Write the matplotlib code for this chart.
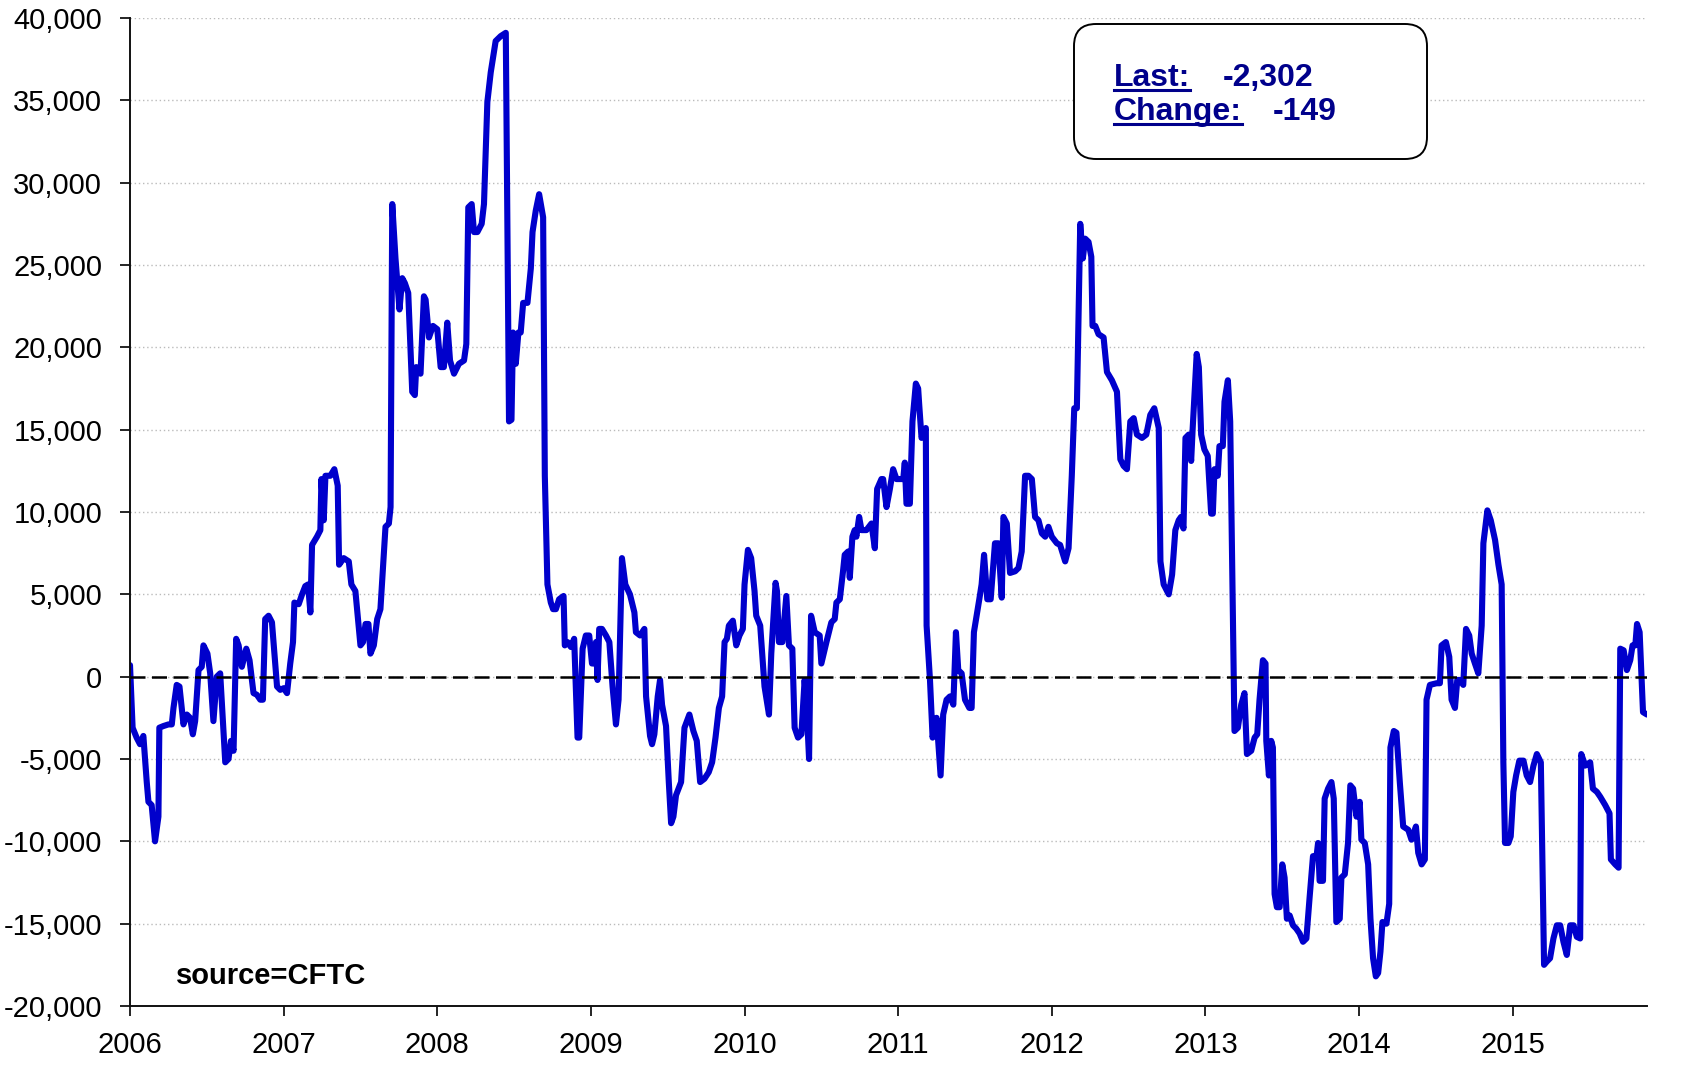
import matplotlib
matplotlib.use("Agg")
import matplotlib.pyplot as plt
from matplotlib.patches import FancyBboxPatch
from matplotlib.lines import Line2D
from matplotlib.ticker import FuncFormatter, FixedLocator

plt.rcParams['font.family'] = ['Liberation Sans', 'DejaVu Sans']
plt.rcParams['axes.unicode_minus'] = False

# ---- data (fractional year, net position) ----
dates = [
    2006.000, 2006.017, 2006.043, 2006.065, 2006.087, 2006.109, 2006.120, 2006.141, 2006.163, 2006.185,
    2006.191, 2006.217, 2006.250, 2006.272, 2006.283, 2006.304, 2006.322, 2006.348, 2006.370, 2006.391,
    2006.409, 2006.424, 2006.446, 2006.467, 2006.478, 2006.504, 2006.522, 2006.543, 2006.565, 2006.587,
    2006.620, 2006.641, 2006.657, 2006.674, 2006.691, 2006.707, 2006.728, 2006.757, 2006.778, 2006.804,
    2006.826, 2006.848, 2006.865, 2006.880, 2006.902, 2006.924, 2006.957, 2006.978, 2007.000, 2007.022,
    2007.043, 2007.061, 2007.070, 2007.098, 2007.120, 2007.141, 2007.159, 2007.174, 2007.185, 2007.217,
    2007.239, 2007.246, 2007.261, 2007.272, 2007.304, 2007.330, 2007.352, 2007.361, 2007.391, 2007.424,
    2007.441, 2007.467, 2007.500, 2007.517, 2007.533, 2007.552, 2007.565, 2007.587, 2007.609, 2007.630,
    2007.652, 2007.663, 2007.685, 2007.696, 2007.707,
    2007.728, 2007.754, 2007.772, 2007.789, 2007.811, 2007.837, 2007.854, 2007.863, 2007.891, 2007.913,
    2007.924, 2007.946, 2007.972, 2008.000, 2008.022, 2008.043, 2008.065, 2008.083, 2008.109, 2008.141,
    2008.174, 2008.189, 2008.202, 2008.224, 2008.239, 2008.261, 2008.289, 2008.304, 2008.326, 2008.348,
    2008.380, 2008.413, 2008.446, 2008.467, 2008.483, 2008.493, 2008.511, 2008.528, 2008.543, 2008.559,
    2008.587, 2008.609, 2008.620, 2008.641, 2008.663, 2008.689, 2008.700, 2008.717, 2008.739, 2008.754,
    2008.772, 2008.793, 2008.822, 2008.830, 2008.848, 2008.870, 2008.891, 2008.913, 2008.924, 2008.946,
    2008.967, 2008.989, 2009.007, 2009.022, 2009.033, 2009.043, 2009.054, 2009.072, 2009.098, 2009.120,
    2009.141, 2009.163, 2009.180, 2009.202, 2009.224, 2009.254, 2009.283, 2009.293, 2009.320, 2009.348,
    2009.359, 2009.385,
    2009.398, 2009.413, 2009.435, 2009.450, 2009.463, 2009.489, 2009.507, 2009.522, 2009.537, 2009.554,
    2009.587, 2009.609, 2009.641, 2009.667, 2009.689, 2009.711, 2009.739, 2009.767, 2009.789, 2009.811,
    2009.833, 2009.854, 2009.870, 2009.885, 2009.898, 2009.924, 2009.946, 2009.967, 2009.989, 2010.000,
    2010.022, 2010.043, 2010.065, 2010.076, 2010.102, 2010.130, 2010.159, 2010.174, 2010.202, 2010.211,
    2010.224, 2010.246, 2010.272, 2010.289, 2010.311, 2010.326, 2010.348, 2010.370, 2010.391, 2010.402,
    2010.420, 2010.433, 2010.457, 2010.489, 2010.500, 2010.533, 2010.565, 2010.587, 2010.598, 2010.620,
    2010.641, 2010.652, 2010.674, 2010.685, 2010.702, 2010.717, 2010.728, 2010.746, 2010.761, 2010.793,
    2010.826, 2010.848, 2010.863, 2010.891, 2010.902, 2010.924, 2010.946, 2010.967, 2010.989, 2011.033,
    2011.043, 2011.054, 2011.076, 2011.093, 2011.115, 2011.130,
    2011.137, 2011.152, 2011.180, 2011.185, 2011.207, 2011.224, 2011.250, 2011.276, 2011.293, 2011.315,
    2011.337, 2011.359, 2011.376, 2011.391, 2011.413, 2011.435, 2011.463, 2011.478, 2011.493, 2011.528,
    2011.543, 2011.559, 2011.580, 2011.602, 2011.630, 2011.652, 2011.674, 2011.685, 2011.707, 2011.728,
    2011.761, 2011.783, 2011.804, 2011.826, 2011.848, 2011.870, 2011.891, 2011.913, 2011.935, 2011.957,
    2011.978, 2012.000, 2012.033, 2012.054, 2012.087, 2012.109, 2012.130, 2012.146, 2012.163, 2012.185,
    2012.202, 2012.217, 2012.239, 2012.257, 2012.265, 2012.283, 2012.304, 2012.337, 2012.359, 2012.391,
    2012.424, 2012.446, 2012.467, 2012.489, 2012.511, 2012.533, 2012.554, 2012.587, 2012.615, 2012.641,
    2012.667, 2012.696, 2012.707, 2012.728, 2012.761, 2012.783, 2012.804, 2012.826,
    2012.841, 2012.857, 2012.870, 2012.891, 2012.907, 2012.917, 2012.943, 2012.957, 2012.972, 2012.993,
    2013.015, 2013.037, 2013.048, 2013.059, 2013.080, 2013.091, 2013.113, 2013.124, 2013.146, 2013.161,
    2013.189, 2013.211, 2013.233, 2013.254, 2013.270, 2013.298, 2013.320, 2013.337, 2013.352, 2013.374,
    2013.391, 2013.396, 2013.413, 2013.428, 2013.439, 2013.450, 2013.465, 2013.483, 2013.500, 2013.515,
    2013.530, 2013.548, 2013.570, 2013.591, 2013.613, 2013.635, 2013.657, 2013.678, 2013.700, 2013.722,
    2013.733, 2013.743, 2013.765, 2013.776, 2013.798, 2013.820, 2013.835, 2013.852, 2013.874, 2013.885,
    2013.907, 2013.928, 2013.943, 2013.961, 2013.983, 2014.004, 2014.015, 2014.037, 2014.059, 2014.074,
    2014.091, 2014.109, 2014.124, 2014.139, 2014.152, 2014.178, 2014.196, 2014.204, 2014.226, 2014.243,
    2014.265,
    2014.287, 2014.320, 2014.341, 2014.370, 2014.385, 2014.407, 2014.428, 2014.439, 2014.461, 2014.504,
    2014.526, 2014.537, 2014.565, 2014.587, 2014.602, 2014.624, 2014.639, 2014.657, 2014.678, 2014.696,
    2014.717, 2014.733, 2014.754, 2014.776, 2014.798, 2014.809, 2014.835, 2014.857, 2014.885, 2014.907,
    2014.928, 2014.939, 2014.950, 2014.972, 2014.987, 2015.004, 2015.022, 2015.043, 2015.070, 2015.091,
    2015.113, 2015.135, 2015.157, 2015.183, 2015.204, 2015.222, 2015.243, 2015.265, 2015.287, 2015.309,
    2015.330, 2015.352, 2015.374, 2015.396, 2015.417, 2015.439, 2015.446, 2015.472, 2015.504, 2015.522,
    2015.548, 2015.570, 2015.602, 2015.630, 2015.639, 2015.667, 2015.689, 2015.700, 2015.722, 2015.743,
    2015.765, 2015.780, 2015.798, 2015.809, 2015.826, 2015.848, 2015.874,
]

net_positions = [
    700, -3100, -3700, -4100, -3600, -6400, -7600, -7800, -10000, -8500,
    -3100, -3000, -2900, -2900, -1900, -500, -600, -2900, -2300, -2500,
    -3500, -2700, 400, 600, 1900, 1400, 200, -2700, 0, 200,
    -5200, -5000, -3900, -4500, 2300, 1900, 600, 1700, 1000, -1000,
    -1100, -1400, -1400, 3500, 3700, 3300, -600, -800, -700, -1000,
    800, 2100, 4500, 4400, 5000, 5500, 5600, 3900, 8000, 8500,
    8900, 12000, 9500, 12200, 12200, 12600, 11600, 6800, 7200, 7000,
    5600, 5200, 1900, 2100, 3200, 3200, 1400, 1900, 3500, 4100,
    7400, 9100, 9300, 10300, 28700,
    25400, 22300, 24200, 23900, 23300, 17300, 17100, 18800, 18400, 23100,
    22900, 20600, 21300, 21100, 18800, 18800, 21500, 19200, 18400, 19000,
    19200, 20200, 28500, 28700, 27000, 27000, 27500, 28700, 34900, 36700,
    38600, 38900, 39100, 15500, 15600, 20900, 19000, 20900, 20900, 22700,
    22700, 24800, 27000, 28300, 29300, 27900, 12200, 5600, 4500, 4100,
    4100, 4700, 4900, 1900, 2100, 1800, 2300, -3700, -3700, 1700,
    2500, 2500, 800, 800, 2100, -200, 2900, 2900, 2500, 2100,
    -600, -2900, -1400, 7200, 5600, 5000, 3900, 2700, 2500, 2900,
    -1200, -3600,
    -4100, -3500, -1200, -200, -1700, -3000, -6400, -8900, -8500, -7200,
    -6400, -3100, -2300, -3300, -3900, -6400, -6200, -5800, -5200, -3700,
    -1900, -1200, 2100, 2300, 3100, 3400, 1900, 2500, 2900, 5600,
    7700, 7200, 5200, 3700, 3100, -600, -2300, 1400, 5700, 5200,
    2100, 2100, 4900, 1900, 1700, -3100, -3700, -3500, -200, -1400,
    -5000, 3700, 2700, 2500, 800, 2100, 3300, 3500, 4500, 4700,
    6400, 7400, 7600, 6000, 8500, 8900, 8500, 9700, 8900, 8900,
    9300, 7800, 11400, 12000, 12000, 10300, 11400, 12600, 12000, 12000,
    13000, 10500, 10500, 15500, 17800, 17500,
    16500, 14500, 15100, 3100, -200, -3700, -2500, -6000, -2300, -1400,
    -1200, -1700, 2700, 400, 200, -1400, -1900, -1900, 2700, 4700,
    5600, 7400, 4700, 4700, 8100, 8100, 4800, 9700, 9300, 6300,
    6400, 6600, 7600, 12200, 12200, 12000, 9700, 9500, 8700, 8500,
    9100, 8500, 8100, 8000, 7000, 7800, 12200, 16300, 16300, 27500,
    25400, 26600, 26400, 25500, 21300, 21300, 20800, 20600, 18500, 18000,
    17300, 13200, 12800, 12600, 15500, 15700, 14700, 14500, 14700, 15900,
    16300, 15100, 7000, 5600, 5000, 6200, 8900, 9500,
    9700, 9000, 14500, 14700, 13100, 15100, 19600, 18800, 14700, 13800,
    13400, 9900, 9900, 12600, 12200, 14000, 14000, 16700, 18000, 15500,
    -3300, -3100, -1700, -1000, -4700, -4500, -3700, -3500, -1400, 1000,
    800, -3900, -6000, -3900, -4300, -13200, -14000, -14000, -11400, -12200,
    -14700, -14500, -15100, -15300, -15600, -16100, -15900, -13400, -10900, -11000,
    -10100, -12400, -12400, -7400, -6800, -6400, -7400, -14900, -14700, -12200,
    -12000, -10100, -6600, -6800, -8500, -7600, -9900, -10100, -11400, -14700,
    -17100, -18200, -18000, -16700, -14900, -15000, -13800, -4300, -3300, -3400,
    -6400,
    -9100, -9300, -9900, -9100, -10700, -11400, -11100, -1400, -500, -400,
    -400, 1900, 2100, 1200, -1400, -1900, -200, -200, -500, 2900,
    2500, 1400, 800, 200, 3100, 8100, 10100, 9500, 8300, 6800,
    5600, -5200, -10100, -10100, -9700, -7000, -6000, -5100, -5100, -6000,
    -6400, -5400, -4700, -5200, -17500, -17300, -17100, -15900, -15100, -15100,
    -16100, -16900, -15100, -15100, -15800, -15900, -4700, -5400, -5200, -6800,
    -7000, -7300, -7800, -8300, -11100, -11400, -11600, 1700, 1600, 400,
    1000, 1900, 1900, 3200, 2700, -2153, -2302,
]

y_ticks = list(range(-20000, 40001, 5000))
x_ticks = list(range(2006, 2016))
last_label = "Last:"
last_text = "-2,302"
change_label = "Change:"
change_text = "-149"
source_text = "source=CFTC"

# ---- figure ----
W, H, DPI = 1690, 1065, 100
fig = plt.figure(figsize=(W / DPI, H / DPI), dpi=DPI)
fig.patch.set_facecolor('white')
ax = fig.add_axes([130 / W, 1 - 1006 / H, (1647 - 130) / W, (1006 - 18) / H])

ax.plot(dates, net_positions, color='#0000CC', lw=4.4, solid_joinstyle='round',
        solid_capstyle='round', zorder=2)
ax.axhline(0, color='black', lw=1.8, ls=(0, (6, 2.6)), zorder=3)

ax.set_xlim(min(dates), max(dates))
ax.set_ylim(-20000, 40000)
ax.yaxis.set_major_locator(FixedLocator(y_ticks))
ax.xaxis.set_major_locator(FixedLocator(x_ticks))
ax.yaxis.set_major_formatter(FuncFormatter(lambda v, p: f"{int(v):,}"))
ax.xaxis.set_major_formatter(FuncFormatter(lambda v, p: f"{int(round(v))}"))

ax.yaxis.grid(True, color='#BBBBBB', ls=(0, (1, 2)), lw=1.0)
ax.set_axisbelow(True)
for s in ('top', 'right'):
    ax.spines[s].set_visible(False)
for s in ('left', 'bottom'):
    ax.spines[s].set_linewidth(1.4)
    ax.spines[s].set_color('#111111')

ax.tick_params(axis='y', direction='out', length=7, width=1.2, labelsize=21, pad=13)
ax.tick_params(axis='x', direction='out', length=7, width=1.2, labelsize=21, pad=11)

# source note
ax.text(0.0303, 0.022, source_text, transform=ax.transAxes, fontsize=21,
        fontweight='bold', va='baseline', ha='left', color='black')

# info box (inches from bottom-left)
box = FancyBboxPatch((10.74, (H - 159) / DPI), 3.53, 1.35,
                     boxstyle="round,pad=0,rounding_size=0.22",
                     transform=fig.dpi_scale_trans, facecolor='white',
                     edgecolor='black', lw=1.4, zorder=5)
fig.add_artist(box)

navy = '#00008B'
fs_box = 23
t1 = fig.text(11.14, (H - 86) / DPI, last_label, transform=fig.dpi_scale_trans,
              fontsize=fs_box, fontweight='bold', color=navy, va='baseline', zorder=6)
fig.text(12.23, (H - 86) / DPI, last_text, transform=fig.dpi_scale_trans,
         fontsize=fs_box, fontweight='bold', color=navy, va='baseline', zorder=6)
t2 = fig.text(11.14, (H - 120) / DPI, change_label, transform=fig.dpi_scale_trans,
              fontsize=fs_box, fontweight='bold', color=navy, va='baseline', zorder=6)
fig.text(12.73, (H - 120) / DPI, change_text, transform=fig.dpi_scale_trans,
         fontsize=fs_box, fontweight='bold', color=navy, va='baseline', zorder=6)

fig.canvas.draw()
r = fig.canvas.get_renderer()
for t, ybase in ((t1, 86), (t2, 120)):
    bb = t.get_window_extent(renderer=r)
    yy = (H - ybase - 4) / DPI
    fig.add_artist(Line2D([bb.x0 / DPI, bb.x1 / DPI], [yy, yy], transform=fig.dpi_scale_trans,
                          color=navy, lw=2.2, zorder=6))

fig.savefig('out.png', dpi=DPI)
